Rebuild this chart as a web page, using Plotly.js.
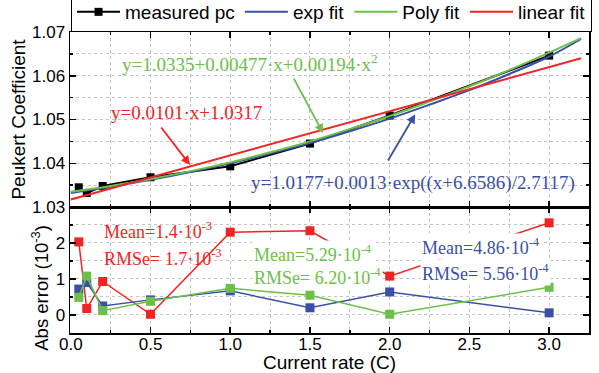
<!DOCTYPE html>
<html>
<head>
<meta charset="utf-8">
<script src="https://cdn.plot.ly/plotly-3.0.1.min.js"></script>
<style>html,body{margin:0;padding:0;background:#fff}#chart{width:599px;height:373px}</style>
</head>
<body>
<div id="chart"></div>
<script>
// measured Peukert coefficient
const rates = [0.05, 0.1, 0.2, 0.5, 1.0, 1.5, 2.0, 3.0];
const measuredPc = [1.0345, 1.0332, 1.0348, 1.0368, 1.0393, 1.0445, 1.0509, 1.0646];

// fitted curves
const fitX = [0, 0.25, 0.5, 0.75, 1.0, 1.25, 1.5, 1.75, 2.0, 2.25, 2.5, 2.75, 3.0, 3.2];
const expFit = [1.0332, 1.0346, 1.0362, 1.0380, 1.0400, 1.0422, 1.0446, 1.0473, 1.0502, 1.0534, 1.0567, 1.0604, 1.0644, 1.0684];
const polyFit = [1.0335, 1.0348, 1.0364, 1.0382, 1.0402, 1.0425, 1.0450, 1.0478, 1.0508, 1.0541, 1.0576, 1.0613, 1.0653, 1.0686];
const linX = [0, 3.2];
const linFit = [1.0317, 1.0640];

// absolute errors (x 10^-3)
const errLinear = [2.03, 0.18, 0.93, 0.02, 2.30, 2.34, 1.08, 2.56];
const errExp = [0.72, 0.90, 0.25, 0.42, 0.67, 0.20, 0.64, 0.06];
const errPoly = [0.49, 1.08, 0.12, 0.38, 0.74, 0.55, 0.02, 0.77];

const cBlack = '#000000', cBlue = '#3a50a8', cGreen = '#6cc04a', cRed = '#f02424';

const traces = [
  {x: rates, y: measuredPc, name: 'measured pc', mode: 'lines+markers', xaxis: 'x', yaxis: 'y',
   line: {color: cBlack, width: 2}, marker: {symbol: 'square', size: 8, color: cBlack}},
  {x: fitX, y: expFit, name: 'exp fit', mode: 'lines', xaxis: 'x', yaxis: 'y',
   line: {color: cBlue, width: 2, shape: 'spline'}},
  {x: fitX, y: polyFit, name: 'Poly fit', mode: 'lines', xaxis: 'x', yaxis: 'y',
   line: {color: cGreen, width: 2, shape: 'spline'}},
  {x: linX, y: linFit, name: 'linear fit', mode: 'lines', xaxis: 'x', yaxis: 'y',
   line: {color: cRed, width: 2}},
  {x: rates, y: errLinear, mode: 'lines+markers', xaxis: 'x2', yaxis: 'y2', showlegend: false,
   line: {color: cRed, width: 1.5}, marker: {symbol: 'square', size: 9, color: cRed}},
  {x: rates, y: errExp, mode: 'lines+markers', xaxis: 'x2', yaxis: 'y2', showlegend: false,
   line: {color: cBlue, width: 1.5}, marker: {symbol: 'square', size: 9, color: cBlue}},
  {x: rates, y: errPoly, mode: 'lines+markers', xaxis: 'x2', yaxis: 'y2', showlegend: false,
   line: {color: cGreen, width: 1.5}, marker: {symbol: 'square', size: 9, color: cGreen}}
];

const sans = 'Liberation Sans, Arial, sans-serif';
const serif = 'Liberation Serif, Times New Roman, serif';
const split = 0.4186;

const gridCommon = {
  showgrid: true, gridcolor: '#c4c4c4', griddash: 'dot', gridwidth: 1,
  showline: true, linecolor: '#000', linewidth: 1.5, mirror: 'ticks',
  ticks: 'inside', ticklen: 6, tickwidth: 1.5, tickcolor: '#000', zeroline: false,
  automargin: false
};
const minorX = {dtick: 0.25, showgrid: true, gridcolor: '#c4c4c4', griddash: 'dot', ticks: 'inside', ticklen: 3, tickcolor: '#000'};

const layout = {
  width: 599, height: 373,
  margin: {l: 70, r: 10, t: 32, b: 40, autoexpand: false},
  paper_bgcolor: '#fff', plot_bgcolor: '#fff',
  font: {family: sans, size: 17, color: '#000'},
  showlegend: true,
  legend: {orientation: 'h', x: 0.002, xanchor: 'left', y: 1.0, yanchor: 'bottom',
           bordercolor: '#000', borderwidth: 1, bgcolor: '#fff',
           font: {family: sans, size: 19, color: '#000'}, itemwidth: 43, tracegroupgap: 0},
  xaxis: Object.assign({}, gridCommon, {
    anchor: 'y', range: [-0.005, 3.25], dtick: 0.5, showticklabels: false, minor: minorX
  }),
  yaxis: Object.assign({}, gridCommon, {
    domain: [split, 1], anchor: 'x', range: [1.03, 1.07], dtick: 0.01, tickformat: '.2f',
    minor: {dtick: 0.005, showgrid: true, gridcolor: '#c4c4c4', griddash: 'dot', ticks: 'inside', ticklen: 3, tickcolor: '#000'},
    title: {text: 'Peukert Coefficient', font: {family: sans, size: 19}, standoff: 1}
  }),
  xaxis2: Object.assign({}, gridCommon, {
    anchor: 'y2', matches: 'x', range: [-0.005, 3.25], dtick: 0.5, tickformat: '.1f', minor: minorX,
    ticklabelstandoff: -5,
    title: {text: 'Current rate (C)', font: {family: sans, size: 19}, standoff: 2}
  }),
  yaxis2: Object.assign({}, gridCommon, {
    domain: [0, split], anchor: 'x2', range: [-0.5, 2.999], dtick: 1,
    minor: {dtick: 0.5, showgrid: true, gridcolor: '#c4c4c4', griddash: 'dot', ticks: 'inside', ticklen: 3, tickcolor: '#000'}
  }),
  annotations: [
    {xref: 'paper', yref: 'paper', x: -0.058, y: 0.15, xanchor: 'center', yanchor: 'middle', textangle: -90,
     text: 'Abs error (10<sup>-3</sup>)', showarrow: false, font: {family: sans, size: 18.5, color: '#000'}},

    {xref: 'x', yref: 'y', x: 1.124, y: 1.0629, text: 'y=1.0335+0.00477·x+0.00194·x<sup>2</sup>', showarrow: false,
     font: {family: serif, size: 19, color: cGreen}},
    {xref: 'x', yref: 'y', x: 1.582, y: 1.0469, axref: 'x', ayref: 'y', ax: 1.394, ay: 1.0597, text: '',
     showarrow: true, arrowhead: 2, arrowsize: 1, arrowwidth: 1.8, arrowcolor: cGreen},
    {xref: 'x', yref: 'y', x: 0.723, y: 1.0517, text: 'y=0.0101·x+1.0317', showarrow: false,
     font: {family: serif, size: 19, color: cRed}},
    {xref: 'x', yref: 'y', x: 0.748, y: 1.0396, axref: 'x', ayref: 'y', ax: 0.56, ay: 1.0485, text: '',
     showarrow: true, arrowhead: 2, arrowsize: 1, arrowwidth: 1.8, arrowcolor: cRed},
    {xref: 'x', yref: 'y', x: 2.148, y: 1.0355, text: 'y=1.0177+0.0013·exp((x+6.6586)/2.7117)', showarrow: false,
     font: {family: serif, size: 19, color: cBlue}},
    {xref: 'x', yref: 'y', x: 2.16, y: 1.0512, axref: 'x', ayref: 'y', ax: 1.984, ay: 1.0403, text: '',
     showarrow: true, arrowhead: 2, arrowsize: 1, arrowwidth: 1.8, arrowcolor: cBlue},

    {xref: 'x2', yref: 'y2', x: 0.196, y: 2.36, xanchor: 'left', text: 'Mean=1.4·10<sup>-3</sup>', showarrow: false,
     font: {family: serif, size: 18, color: cRed}},
    {xref: 'x2', yref: 'y2', x: 0.196, y: 1.61, xanchor: 'left', text: 'RMSe= 1.7·10<sup>-3</sup>', showarrow: false,
     font: {family: serif, size: 18, color: cRed}},
    {xref: 'x2', yref: 'y2', x: 1.137, y: 1.72, xanchor: 'left', text: 'Mean=5.29·10<sup>-4</sup>', showarrow: false,
     bgcolor: '#fff', font: {family: serif, size: 18, color: cGreen}},
    {xref: 'x2', yref: 'y2', x: 1.137, y: 1.06, xanchor: 'left', text: 'RMSe= 6.20·10<sup>-4</sup>', showarrow: false,
     bgcolor: '#fff', font: {family: serif, size: 18, color: cGreen}},
    {xref: 'x2', yref: 'y2', x: 2.19, y: 1.89, xanchor: 'left', text: 'Mean=4.86·10<sup>-4</sup>', showarrow: false,
     bgcolor: '#fff', font: {family: serif, size: 18, color: cBlue}},
    {xref: 'x2', yref: 'y2', x: 2.19, y: 1.19, xanchor: 'left', text: 'RMSe= 5.56·10<sup>-4</sup>', showarrow: false,
     bgcolor: '#fff', font: {family: serif, size: 18, color: cBlue}}
  ]
};

Plotly.newPlot('chart', traces, layout, {displayModeBar: false, staticPlot: true});
</script>
</body>
</html>
